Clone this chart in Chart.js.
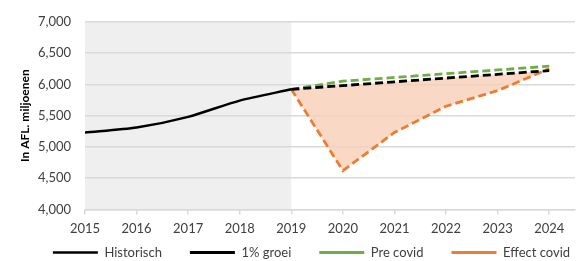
<!DOCTYPE html>
<html>
<head>
<meta charset="utf-8">
<script src="https://cdn.jsdelivr.net/npm/chart.js@4"></script>
<style>
  html, body { margin: 0; padding: 0; background: #fff; }
  #wrap { width: 584px; height: 261px; }
</style>
</head>
<body>
<div id="wrap"><canvas id="chart"></canvas></div>
<script>
// data
let x_ticks = [2015, 2016, 2017, 2018, 2019, 2020, 2021, 2022, 2023, 2024];
let hist_years = [2015, 2016, 2017, 2018, 2019];
let historisch = [5230, 5310, 5480, 5740, 5920];
let proj_years = [2019, 2020, 2021, 2022, 2023, 2024];
let groei = [5920, 5980, 6040, 6100, 6160, 6220];
let pre_covid = [5920, 6050, 6110, 6170, 6230, 6290];
let effect_covid = [5920, 4620, 5230, 5650, 5900, 6250];

let toPoints = (xs, ys) => xs.map((x, i) => ({x: x, y: ys[i]}));

let font_name = 'Lato, "Open Sans", sans-serif';

// grey block behind the historic years
let shade_plugin = {
    id: 'shade',
    beforeDraw: (chart) => {
        let x = chart.scales.x;
        let y = chart.scales.y;
        let ctx = chart.ctx;
        ctx.save();
        ctx.fillStyle = '#efefef';
        let x0 = x.getPixelForValue(2015);
        let x1 = x.getPixelForValue(2019);
        ctx.fillRect(x0, y.top, x1 - x0, y.bottom - y.top);
        ctx.restore();
    }
};

// keep the legend low and wide, like the original
let legend_fix = {
    id: 'legendFix',
    afterInit: (chart) => {
        let lg = chart.legend;
        let orig_fit = lg.fit;
        lg.fit = function () {
            orig_fit.call(this);
            this.height = 15;
        };
    },
    afterLayout: (chart) => {
        let lg = chart.legend;
        lg.top = 218;
        lg.left += 24;
        lg.right += 24;
    }
};

let chart_data = {
    datasets: [
        {
            label: 'Historisch',
            data: toPoints(hist_years, historisch),
            borderColor: '#000000',
            backgroundColor: '#000000',
            borderWidth: 2.5,
            tension: 0.25,
            pointRadius: 0,
            fill: false
        },
        {
            label: '1% groei',
            data: toPoints(proj_years, groei),
            borderColor: '#000000',
            backgroundColor: '#000000',
            borderWidth: 2.8,
            borderDash: [8, 4],
            pointRadius: 0,
            fill: false
        },
        {
            label: 'Pre covid',
            data: toPoints(proj_years, pre_covid),
            borderColor: '#70AD47',
            backgroundColor: '#70AD47',
            borderWidth: 2.8,
            borderDash: [8, 4],
            pointRadius: 0,
            fill: false
        },
        {
            label: 'Effect covid',
            data: toPoints(proj_years, effect_covid),
            borderColor: '#ED7D31',
            backgroundColor: 'rgba(248, 208, 182, 0.8)',
            borderWidth: 2.8,
            borderDash: [8, 4],
            pointRadius: 0,
            fill: 1
        }
    ]
};

let chart_options = {
    responsive: true,
    maintainAspectRatio: false,
    animation: false,
    layout: { padding: { left: 0, right: 9, top: 6, bottom: 2 } },
    plugins: {
        tooltip: { enabled: false },
        legend: {
            position: 'bottom',
            labels: {
                usePointStyle: true,
                pointStyle: 'line',
                pointStyleWidth: 45,
                boxHeight: 10,
                padding: 28,
                color: '#404040',
                font: { family: font_name, size: 13 },
                generateLabels: (chart) => {
                    let items = Chart.defaults.plugins.legend.labels.generateLabels(chart);
                    items.forEach(it => { it.fillStyle = 'rgba(0,0,0,0)'; });
                    return items;
                }
            }
        }
    },
    scales: {
        x: {
            type: 'linear',
            min: 2015,
            max: 2024.5,
            afterBuildTicks: (scale) => {
                scale.ticks = x_ticks.map(v => ({value: v}));
            },
            ticks: {
                padding: 7,
                color: '#404040',
                font: { family: font_name, size: 13 },
                callback: (v) => String(v)
            },
            grid: {
                drawOnChartArea: false,
                drawTicks: true,
                tickLength: 5,
                color: '#d9d9d9',
                lineWidth: 1.5
            },
            border: { color: '#d9d9d9', width: 1.5 }
        },
        y: {
            min: 4000,
            max: 7000,
            afterFit: (scale) => { scale.width = 85; },
            ticks: {
                stepSize: 500,
                padding: 14,
                color: '#404040',
                font: { family: font_name, size: 13 },
                callback: (v) => v.toLocaleString('en-US')
            },
            grid: {
                color: '#d9d9d9',
                lineWidth: 1.5,
                drawTicks: false
            },
            border: { display: false },
            title: {
                display: true,
                text: 'In AFL. miljoenen',
                color: '#000000',
                padding: { top: 18, bottom: 0 },
                font: { family: font_name, size: 12, weight: 'bold' }
            }
        }
    }
};

let chart_canvas = document.getElementById('chart');
let main_chart = new Chart(chart_canvas, {
    type: 'line',
    data: chart_data,
    options: chart_options,
    plugins: [shade_plugin, legend_fix]
});
</script>
</body>
</html>
